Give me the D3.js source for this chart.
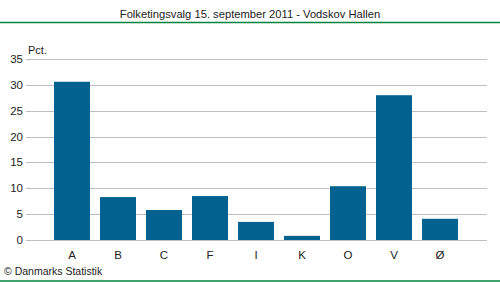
<!DOCTYPE html>
<html><head><meta charset="utf-8">
<script src="https://cdn.jsdelivr.net/npm/d3@7"></script>
<style>body{margin:0;background:#fff}svg{display:block}text{font-family:"Liberation Sans",Arial,sans-serif;fill:#222}</style>
</head><body>
<script>
const categories = ["A","B","C","F","I","K","O","V","Ø"];
const values = [30.6, 8.3, 5.8, 8.5, 3.5, 0.8, 10.4, 28.0, 4.1];
const yTicks = [0,5,10,15,20,25,30,35];
const title = "Folketingsvalg 15. september 2011 - Vodskov Hallen";
const yUnit = "Pct.";
const source = "© Danmarks Statistik";

const W=500,H=282;
const svg=d3.select("body").append("svg").attr("width",W).attr("height",H);
svg.append("text").attr("x",250).attr("y",18).attr("text-anchor","middle").style("font-size","11.2px").text(title);
svg.append("line").attr("x1",0).attr("x2",W).attr("y1",22.5).attr("y2",22.5).attr("stroke","#00843d").attr("stroke-width",1.5);
svg.append("line").attr("x1",0).attr("x2",W).attr("y1",281).attr("y2",281).attr("stroke","#00843d").attr("stroke-width",1.5);

const y=d3.scaleLinear().domain([0,35]).range([240,59]);
const x=d3.scaleBand().domain(categories).range([49,463]).paddingInner(10/46).paddingOuter(5/46);

const g=svg.append("g");
g.selectAll("line.grid").data(yTicks).join("line").attr("class","grid")
 .attr("x1",26).attr("x2",487).attr("y1",d=>Math.round(y(d))+0.5).attr("y2",d=>Math.round(y(d))+0.5)
 .attr("stroke","#bdbdc6").attr("stroke-width",1.2);
g.selectAll("text.yt").data(yTicks).join("text").attr("class","yt")
 .attr("x",23).attr("y",d=>y(d)+4).attr("text-anchor","end").style("font-size","11.5px").text(d=>d);
svg.append("text").attr("x",28).attr("y",54).style("font-size","11px").text(yUnit);

g.selectAll("rect").data(values).join("rect")
 .attr("x",(d,i)=>x(categories[i])).attr("width",x.bandwidth())
 .attr("y",d=>y(d)).attr("height",d=>y(0)-y(d)).attr("fill","#03628f");

g.selectAll("text.xt").data(categories).join("text").attr("class","xt")
 .attr("x",d=>x(d)+x.bandwidth()/2).attr("y",259).attr("text-anchor","middle").style("font-size","11.5px").text(d=>d);

svg.append("text").attr("x",4).attr("y",275).style("font-size","10.5px").text(source);
</script>
</body></html>
